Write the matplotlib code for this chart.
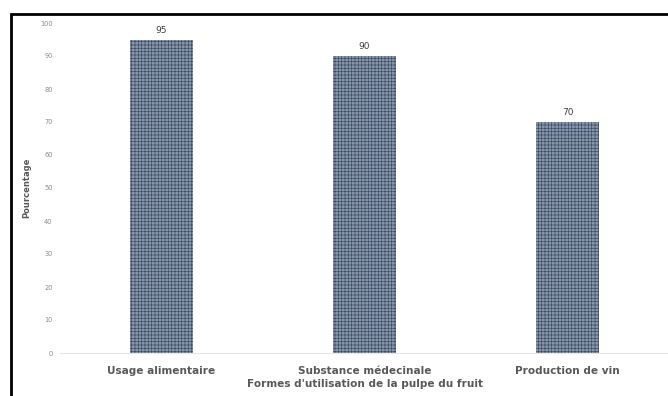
import matplotlib
matplotlib.use("Agg")
import matplotlib.pyplot as plt
from matplotlib.patches import Rectangle

categories = ["Usage alimentaire", "Substance médecinale", "Production de vin"]
values = [95, 90, 70]
y_ticks = [0, 10, 20, 30, 40, 50, 60, 70, 80, 90, 100]

plt.rcParams['font.family'] = ['DejaVu Sans']
plt.rcParams['hatch.linewidth'] = 0.5

fig = plt.figure(figsize=(6.68, 3.96), dpi=100)
ax = fig.add_axes([59.5 / 668, 1 - 353 / 396, 610 / 668, 330 / 396])

x = range(len(categories))
bars = ax.bar(x, values, width=0.31, color='#8796aa', edgecolor='#3e4e64',
              hatch='+++++', linewidth=0)

for xi, v in zip(x, values):
    ax.text(xi, v + 1.5, str(v), ha='center', va='bottom', fontsize=6.5, color='#404040')

ax.set_xlim(-0.5, 2.5)
ax.set_ylim(0, 100)
ax.set_yticks(y_ticks)
ax.tick_params(axis='y', length=0, labelsize=4.8, labelcolor='#8c8c8c', pad=5)
ax.set_xticks(list(x))
ax.set_xticklabels(categories, fontsize=7.6, fontweight='bold', color='#595959')
ax.tick_params(axis='x', length=0, pad=9)

for side in ['top', 'right', 'left']:
    ax.spines[side].set_visible(False)
ax.spines['bottom'].set_color('#e6e6e6')
ax.spines['bottom'].set_linewidth(0.8)

ax.set_xlabel("Formes d'utilisation de la pulpe du fruit", fontsize=7.6,
              fontweight='bold', color='#595959')
ax.xaxis.set_label_coords((365 - 59.5) / 610, -26 / 330)
ax.set_ylabel("Pourcentage", fontsize=6, fontweight='bold', color='#595959')
ax.yaxis.set_label_coords((31 - 59.5) / 610, 0.5)

# black frame open on the right and bottom
fig.patches.append(Rectangle((11 / 668, -0.2), 1.5, 1.2 - 14 / 396, transform=fig.transFigure,
                             fill=False, edgecolor='black', linewidth=2))

fig.savefig("out.png", dpi=100)
